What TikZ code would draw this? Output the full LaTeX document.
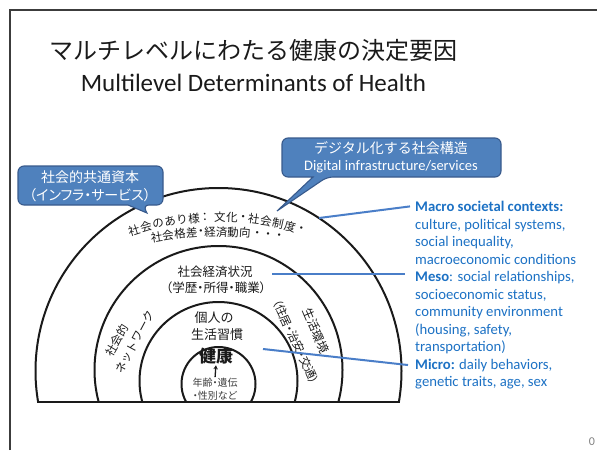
\documentclass[tikz,border=0pt]{standalone}
\usepackage{fontspec}
\setmainfont{Carlito}
\newfontfamily\jp{Noto Sans CJK JP}
\newfontfamily\jpp[RawFeature=+palt]{Noto Sans CJK JP}
\usetikzlibrary{arrows.meta,calc}
\definecolor{ink}{RGB}{26,26,26}
\definecolor{callfill}{RGB}{79,129,189}
\definecolor{callline}{RGB}{56,90,140}
\definecolor{txtblue}{RGB}{28,113,196}
\definecolor{lnblue}{RGB}{74,126,200}
\definecolor{framec}{RGB}{60,60,60}
\definecolor{softink}{RGB}{60,60,60}
\newcommand\fs[1]{\fontsize{#1}{#1}\selectfont}
\begin{document}
\begin{tikzpicture}[x=1pt,y=-1pt,
  ring/.style={draw=ink,line width=2pt},
  callout/.style={fill=callfill,draw=callline,line width=1.1pt},
  calltxt/.style={text=white,inner sep=0pt},
  lbl/.style={text=ink,inner sep=0pt},
  bluetxt/.style={text=txtblue,inner sep=0pt,anchor=base west,font=\fs{14.7}},
  bline/.style={draw=lnblue,line width=2pt},
]
\useasboundingbox (0,0) rectangle (597,450);
\draw[framec,line width=1.3pt] (10,450) -- (10,10) -- (597,10);

% title
\node[lbl,font=\jp\fs{24}] (title) at (253,50) {マルチレベルにわたる健康の決定要因};
\node[lbl,font=\fs{25}] (sub) at (253.5,83) {Multilevel Determinants of Health};

% rings
\begin{scope}
\clip (0,0) rectangle (597,402);
\draw[ring] (218.5,371) circle[radius=183pt];
\draw[ring] (218.5,370) circle[radius=124pt];
\draw[ring] (218.5,381) circle[radius=79pt];
\draw[ring] (218.5,384) circle[radius=37pt];
\end{scope}
\draw[ring] (37,402) -- (400,402);

% callouts
\draw[callout,rounded corners=6pt] (18,186) |- (163,166) |- (143,205) [sharp corners] -- (147,213) -- (128,205) [rounded corners=6pt] -| (18,186) -- cycle;
\draw[callout,rounded corners=6pt] (282,158) |- (501,138) |- (327,177) [sharp corners] -- (277,211) -- (313,177) [rounded corners=6pt] -| (282,158) -- cycle;
\node[calltxt,font=\jp\fs{14}] (r1) at (391,148) {デジタル化する社会構造};
\node[calltxt,font=\fs{14.5}] (r2) at (391,167) {Digital infrastructure/services};
\node[calltxt,font=\jp\fs{14}] (l1) at (90,177) {社会的共通資本};
\node[calltxt,font=\jpp\fs{14}] (l2) at (90,195) {（インフラ・サービス）};

% outer arc text
\foreach \ch/\xx [count=\i] in {社/134,会/146,の/158,あ/170,り/182,様/194,：/205,文/220,化/232,・/243,社/254,会/266,制/278,度/290,・/301}{
  \pgfmathsetmacro\ang{asin((\xx-219)/277)}
  \pgfmathsetmacro\rot{0-(\ang)}
  \node[lbl,font=\jp\fs{11.5},rotate=\rot] (ma\i) at (\xx,{494-277*cos(\ang)}) {\ch};
}
\foreach \ch/\xx [count=\i] in {社/156.7,会/168,格/180,差/191.7,・/201,経/210,済/221.7,動/233,向/245,・/257,・/268,・/279}{
  \pgfmathsetmacro\ang{asin((\xx-218)/387)}
  \pgfmathsetmacro\rot{0-(\ang)}
  \node[lbl,font=\jp\fs{11.5},rotate=\rot] (mb\i) at (\xx,{619-387*cos(\ang)}) {\ch};
}

% meso / micro labels
\node[lbl,font=\jp\fs{12.5}] (ses) at (215,272) {社会経済状況};
\node[lbl,font=\jpp\fs{12.5}] (ses2) at (216,288) {（学歴・所得・職業）};
\node[lbl,font=\jp\fs{11.5},rotate=60] (net1) at (117,340) {社会的};
\node[lbl,font=\jp\fs{11.5},rotate=62] (net2) at (135,342) {ネットワーク};
\node[lbl,font=\jp\fs{12},rotate=-67] (env1) at (316,331) {生活環境};
\node[lbl,font=\jpp\fs{11.5},rotate=-65] (env2) at (296,342) {（住居・治安・交通）};
\node[lbl,font=\jp\fs{13}] (ind1) at (214,318) {個人の};
\node[lbl,font=\jp\fs{13}] (ind2) at (217,335) {生活習慣};
\node[lbl,font=\jp\bfseries\fs{17}] (health) at (216,356) {健康};
\node[lbl,text=softink,font=\jpp\fs{10}] (age1) at (215,383) {年齢・遺伝};
\node[lbl,text=softink,font=\jpp\fs{10}] (age2) at (215,396) {・性別など};
\draw[ink,line width=1.3pt,-{Stealth[length=4pt,width=4.5pt]},shorten <=1pt,shorten >=1pt] (age1.north) -- (health.south);

% right legend
\node[bluetxt] (m1) at (415,211.5) {\textbf{Macro societal contexts:}};
\node[bluetxt] (m2) at (415,229) {culture, political systems,};
\node[bluetxt] (m3) at (415,246.5) {social inequality,};
\node[bluetxt] (m4) at (415,264) {macroeconomic conditions};
\node[bluetxt] (m5) at (415,281.5) {\textbf{Meso}: social relationships,};
\node[bluetxt] (m6) at (415,299) {socioeconomic status,};
\node[bluetxt] (m7) at (415,316.5) {community environment};
\node[bluetxt] (m8) at (415,334) {(housing, safety,};
\node[bluetxt] (m9) at (415,351.5) {transportation)};
\node[bluetxt] (m10) at (415,369) {\textbf{Micro:} daily behaviors,};
\node[bluetxt] (m11) at (415,386.5) {genetic traits, age, sex};

% connectors
\coordinate (c1) at (319,218);
\coordinate (c2) at (272,274);
\coordinate (c3) at (263,349);
\draw[bline] (c1) -- ([xshift=-5pt]m1.west);
\draw[bline] (c2) -- ([xshift=-10pt]c2 -| m5.west);
\draw[bline] (c3) -- ([xshift=-7pt]m10.west);

% page number
\node[inner sep=0pt,text=gray,font=\fs{12}] (pg) at (592,442) {0};
\end{tikzpicture}
\end{document}
